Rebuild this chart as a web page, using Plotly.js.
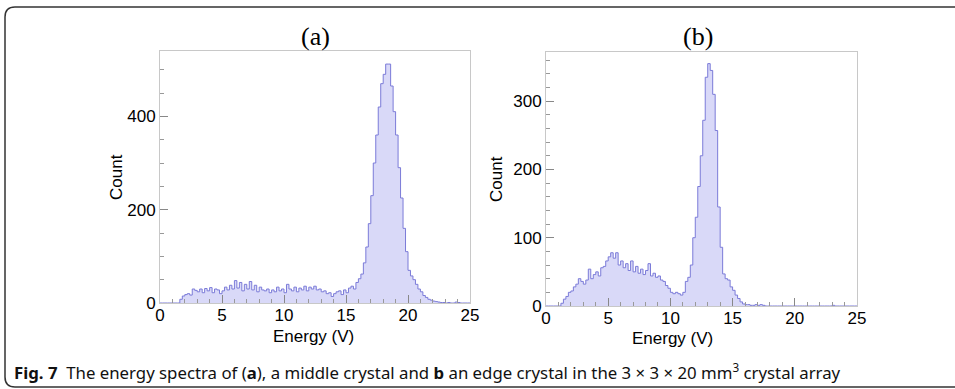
<!DOCTYPE html>
<html>
<head>
<meta charset="utf-8">
<script src="https://cdn.plot.ly/plotly-3.0.1.min.js"></script>
<style>html,body{margin:0;padding:0;background:#fff;}#chart{width:955px;height:389px;}</style>
</head>
<body>
<div id="chart"></div>
<script>
// ---- data ----
const binStart = 0;
const binWidth = 0.2;   // V
// (a) middle crystal, 125 bins of 0.2 V from 0 to 25 V
const countsA = [
  0,0,0,0,0,0,0,0,
  8,15,
  18,20,17,30,27,
  24,30,22,31,26,
  33,22,30,28,20,
  26,34,28,38,30,
  48,32,44,26,40,
  30,46,28,38,24,
  34,28,26,30,22,
  28,24,34,26,30,
  22,40,30,26,34,
  24,32,28,36,26,
  34,30,36,28,30,
  24,26,20,22,14,
  20,24,26,18,28,
  22,32,36,30,44,
  52,62,86,120,170,
  230,300,360,420,470,
  490,512,512,465,410,
  360,290,225,160,110,
  70,58,50,40,30,
  24,16,12,8,6,
  4,3,2,1,1,
  0,1,0,0,2,
  1,0,0,0,0
];
// (b) edge crystal
const countsB = [
  0,0,0,0,0,0,
  4,10,14,20,
  22,28,32,40,36,
  32,38,54,40,46,
  50,44,56,58,66,
  72,78,70,78,60,
  66,56,62,52,66,
  50,58,48,54,46,
  52,62,44,48,42,
  44,38,36,30,26,
  20,18,20,18,16,
  20,36,42,60,100,
  130,175,220,272,335,
  355,345,310,257,145,
  86,47,40,38,28,
  23,16,11,6,3,
  2,2,1,1,2,
  1,2,1,0,0,
  0,0,0,0,0,
  0,0,0,0,0,
  0,0,0,0,0,
  0,0,0,0,0,
  0,0,0,0,0,
  1,0,0,0,0,
  0,0,0,0,0
];
const panelTitles = ['(a)', '(b)'];
const xTitle = 'Energy (V)';
const yTitle = 'Count';
const captionText = '<b>Fig. 7</b>  The energy spectra of (<b>a</b>), a middle crystal and <b>b</b> an edge crystal in the 3 × 3 × 20 mm<sup>3</sup> crystal array';

// ---- helpers ----
const W = 955, H = 389;
const px = x => x / W;
const py = y => 1 - y / H;

function histTrace(counts, xa, ya) {
  const xs = counts.map((_, i) => binStart + i * binWidth);
  xs.push(binStart + counts.length * binWidth);
  const ys = counts.concat([counts[counts.length - 1]]);
  return {
    type: 'scatter', mode: 'lines', x: xs, y: ys, xaxis: xa, yaxis: ya,
    line: {shape: 'hv', color: '#7b7bd8', width: 1},
    fill: 'tozeroy', fillcolor: 'rgba(217,217,248,1)',
    hoverinfo: 'skip', showlegend: false
  };
}

const tickFont = {family: 'Liberation Sans, Arial, sans-serif', size: 17, color: '#000'};
function xAxis(domain, anchor) {
  return {
    domain: domain, anchor: anchor, range: [0, 25], dtick: 5, tick0: 0,
    ticks: 'inside', ticklen: 8, tickwidth: 1, tickcolor: '#888',
    minor: {dtick: 1, ticks: 'inside', ticklen: 4, tickcolor: '#999'},
    showline: true, linecolor: '#c8c8c8', linewidth: 1, mirror: true,
    showgrid: false, zeroline: false, tickfont: tickFont, fixedrange: true,
    ticklabelstandoff: -3
  };
}
function yAxis(domain, anchor, ymax, dt, mdt) {
  return {
    domain: domain, anchor: anchor, range: [0, ymax], dtick: dt, tick0: 0,
    ticks: 'inside', ticklen: 8, tickwidth: 1, tickcolor: '#888',
    minor: {dtick: mdt, ticks: 'inside', ticklen: 4, tickcolor: '#999'},
    showline: true, linecolor: '#c8c8c8', linewidth: 1, mirror: true,
    showgrid: false, zeroline: false, tickfont: tickFont, fixedrange: true
  };
}

const traces = [histTrace(countsA, 'x', 'y'), histTrace(countsB, 'x2', 'y2')];

const r = 10, L = 5, T = 7, R = 960, B = 387;
const borderPath =
  `M ${px(R)} ${py(T)} L ${px(L + r)} ${py(T)} Q ${px(L)} ${py(T)} ${px(L)} ${py(T + r)} ` +
  `L ${px(L)} ${py(B - r)} Q ${px(L)} ${py(B)} ${px(L + r)} ${py(B)} L ${px(R)} ${py(B)}`;

const axTitleFont = {family: 'Liberation Sans, Arial, sans-serif', size: 17, color: '#000'};
const panelFont = {family: 'Liberation Serif, Times New Roman, serif', size: 26, color: '#000'};

const layout = {
  width: W, height: H,
  margin: {l: 0, r: 0, t: 0, b: 0},
  paper_bgcolor: '#fff', plot_bgcolor: '#fff',
  xaxis: xAxis([px(160), px(470)], 'y'),
  yaxis: yAxis([py(303), py(51)], 'x', 540, 200, 50),
  xaxis2: xAxis([px(546), px(857)], 'y2'),
  yaxis2: yAxis([py(306), py(52)], 'x2', 372, 100, 20),
  shapes: [{type: 'path', xref: 'paper', yref: 'paper', path: borderPath,
            line: {color: '#333', width: 1.5}}],
  annotations: [
    {text: panelTitles[0], xref: 'paper', yref: 'paper', x: px(315), y: py(36), showarrow: false, font: panelFont, xanchor: 'center', yanchor: 'middle'},
    {text: panelTitles[1], xref: 'paper', yref: 'paper', x: px(698), y: py(37), showarrow: false, font: panelFont, xanchor: 'center', yanchor: 'middle'},
    {text: yTitle, xref: 'paper', yref: 'paper', x: px(117), y: py(177), showarrow: false, textangle: -90, font: axTitleFont, xanchor: 'center', yanchor: 'middle'},
    {text: yTitle, xref: 'paper', yref: 'paper', x: px(496), y: py(179), showarrow: false, textangle: -90, font: axTitleFont, xanchor: 'center', yanchor: 'middle'},
    {text: xTitle, xref: 'paper', yref: 'paper', x: px(313), y: py(336), showarrow: false, font: axTitleFont, xanchor: 'center', yanchor: 'middle'},
    {text: xTitle, xref: 'paper', yref: 'paper', x: px(672), y: py(338), showarrow: false, font: axTitleFont, xanchor: 'center', yanchor: 'middle'},
    {text: captionText, xref: 'paper', yref: 'paper', x: px(12), y: py(371), showarrow: false, align: 'left', xanchor: 'left', yanchor: 'middle',
     font: {family: 'Noto Sans, Open Sans, sans-serif', size: 16.8, color: '#111'}}
  ]
};

Plotly.newPlot('chart', traces, layout, {displayModeBar: false, staticPlot: true});
</script>
</body>
</html>
